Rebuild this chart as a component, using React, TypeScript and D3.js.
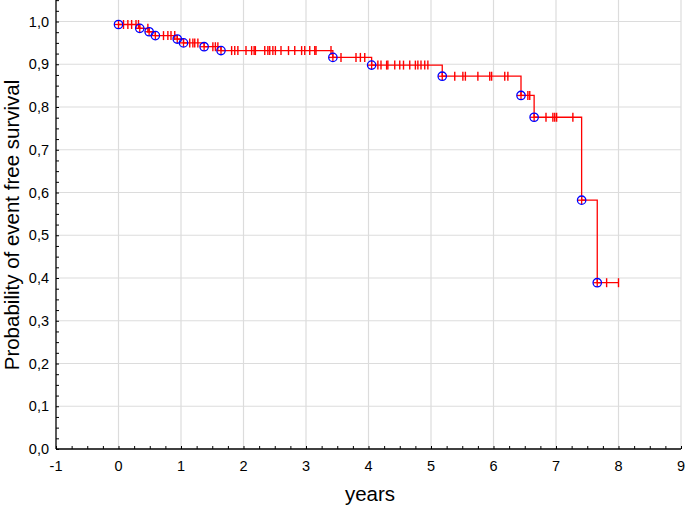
import React, { useEffect, useRef } from "react";
import * as d3 from "d3";

// event times (years) and survival probability after each event
const eventTimes = [0.0, 0.34, 0.49, 0.59, 0.94, 1.04, 1.37, 1.64, 3.43, 4.05, 5.18, 6.44, 6.65, 7.41, 7.66];
const eventSurv = [0.993, 0.984, 0.976, 0.967, 0.959, 0.95, 0.941, 0.932, 0.916, 0.898, 0.872, 0.827, 0.776, 0.582, 0.389];

// censored observations (years)
const censorTimes = [
  0.08, 0.15, 0.21, 0.28, 0.32, 0.47, 0.72, 0.79, 0.84, 0.9, 1.14, 1.19, 1.22, 1.27,
  1.51, 1.55, 1.59, 1.81, 1.86, 1.91, 2.04, 2.13, 2.17, 2.19, 2.34, 2.39, 2.42, 2.47,
  2.51, 2.6, 2.72, 2.82, 2.93, 2.98, 3.06, 3.14, 3.16, 3.4, 3.56, 3.8, 3.87, 3.94,
  4.15, 4.2, 4.29, 4.31, 4.42, 4.5, 4.56, 4.66, 4.75, 4.79, 4.84, 4.9, 4.95,
  5.38, 5.51, 5.55, 5.75, 5.94, 5.97, 6.18, 6.23, 6.55, 6.58,
  6.84, 6.95, 6.98, 7.01, 7.27, 7.81, 8.0,
];

const xTicks = [-1, 0, 1, 2, 3, 4, 5, 6, 7, 8, 9];
const yTicks = [0, 0.1, 0.2, 0.3, 0.4, 0.5, 0.6, 0.7, 0.8, 0.9, 1.0];

const W = 685;
const H = 506;

function survAt(t: number) {
  let s = 1;
  for (let i = 0; i < eventTimes.length; i++) {
    if (eventTimes[i] <= t) s = eventSurv[i];
  }
  return s;
}

export default function App() {
  const ref = useRef<SVGSVGElement>(null);

  useEffect(() => {
    const svg = d3.select(ref.current);
    svg.selectAll("*").remove();

    const x = d3.scaleLinear().domain([-1, 9]).range([56, 681]);
    const y = d3.scaleLinear().domain([0, 1]).range([449, 21.5]);
    const fmt = (v: number) => d3.format(".1f")(v).replace(".", ",");
    const font = "'Liberation Sans', Arial, sans-serif";

    // grid
    const grid = svg.append("g").attr("stroke", "#dcdcdc").attr("stroke-width", 1.2);
    xTicks.slice(1).forEach((t) => {
      grid.append("line").attr("x1", x(t)).attr("x2", x(t)).attr("y1", y(0)).attr("y2", y(1.05));
    });
    yTicks.slice(1).forEach((t) => {
      grid.append("line").attr("x1", x(-1)).attr("x2", x(9)).attr("y1", y(t)).attr("y2", y(t));
    });

    // axes
    const xAxis = svg.append("g").attr("transform", `translate(0,${y(0)})`);
    xAxis.call(
      d3.axisTop(x).tickValues(d3.range(-1, 9.001, 0.25)).tickSize(3).tickFormat(() => "")
    );
    xAxis.call((g) => g.select(".domain").remove());
    xAxis.append("line").attr("x1", x(-1)).attr("x2", x(9)).attr("stroke", "#000").attr("stroke-width", 1.3);
    xAxis.selectAll(".tick line").attr("stroke", "#000");

    const yAxis = svg.append("g").attr("transform", `translate(${x(-1)},0)`);
    yAxis.call(
      d3.axisRight(y).tickValues(d3.range(0, 1.051, 0.025)).tickSize(3).tickFormat(() => "")
    );
    yAxis.call((g) => g.select(".domain").remove());
    yAxis.append("line").attr("y1", y(0)).attr("y2", y(1.05)).attr("stroke", "#000").attr("stroke-width", 1.3);
    yAxis.selectAll(".tick line").attr("stroke", "#000");

    // tick labels
    svg
      .append("g")
      .selectAll("text")
      .data(xTicks)
      .join("text")
      .attr("x", (d) => x(d))
      .attr("y", 471)
      .attr("text-anchor", "middle")
      .attr("font-family", font)
      .attr("font-size", 14.5)
      .text((d) => d3.format("d")(d).replace("−", "-"));

    svg
      .append("g")
      .selectAll("text")
      .data(yTicks)
      .join("text")
      .attr("x", 49)
      .attr("y", (d) => y(d) + 5)
      .attr("text-anchor", "end")
      .attr("font-family", font)
      .attr("font-size", 14.5)
      .text((d) => fmt(d));

    // axis titles
    svg
      .append("text")
      .attr("x", 370)
      .attr("y", 501)
      .attr("text-anchor", "middle")
      .attr("font-family", font)
      .attr("font-size", 20.5)
      .text("years");
    svg
      .append("text")
      .attr("transform", `translate(19,${225}) rotate(-90)`)
      .attr("text-anchor", "middle")
      .attr("font-family", font)
      .attr("font-size", 20.5)
      .text("Probability of event free survival");

    // step curve
    const pts: [number, number][] = eventTimes.map((t, i) => [t, eventSurv[i]]);
    const lastT = d3.max(censorTimes) as number;
    pts.push([lastT, eventSurv[eventSurv.length - 1]]);

    const line = d3
      .line<[number, number]>()
      .x((d) => x(d[0]))
      .y((d) => y(d[1]))
      .curve(d3.curveStepAfter);

    svg
      .append("path")
      .datum(pts)
      .attr("fill", "none")
      .attr("stroke", "#ff0000")
      .attr("stroke-width", 1.3)
      .attr("d", line);

    // censor marks
    svg
      .append("g")
      .selectAll("line")
      .data(censorTimes)
      .join("line")
      .attr("x1", (d) => x(d))
      .attr("x2", (d) => x(d))
      .attr("y1", (d) => y(survAt(d)) - 4.5)
      .attr("y2", (d) => y(survAt(d)) + 4.5)
      .attr("stroke", "#ff0000")
      .attr("stroke-width", 1.4);

    // event markers
    const ev = svg
      .append("g")
      .selectAll("g")
      .data(eventTimes.map((t, i) => [t, eventSurv[i]]))
      .join("g")
      .attr("transform", (d) => `translate(${x(d[0])},${y(d[1])})`);
    ev.append("line").attr("x1", -4).attr("x2", 4).attr("stroke", "#ff0000").attr("stroke-width", 1.3);
    ev.append("line").attr("y1", -4).attr("y2", 4).attr("stroke", "#ff0000").attr("stroke-width", 1.3);
    ev.append("circle")
      .attr("r", 4.2)
      .attr("fill", "none")
      .attr("stroke", "#0000ff")
      .attr("stroke-width", 1.3);
  }, []);

  return (
    <svg
      ref={ref}
      width={W}
      height={H}
      style={{ position: "absolute", left: 0, top: 0, background: "#fff" }}
    />
  );
}
